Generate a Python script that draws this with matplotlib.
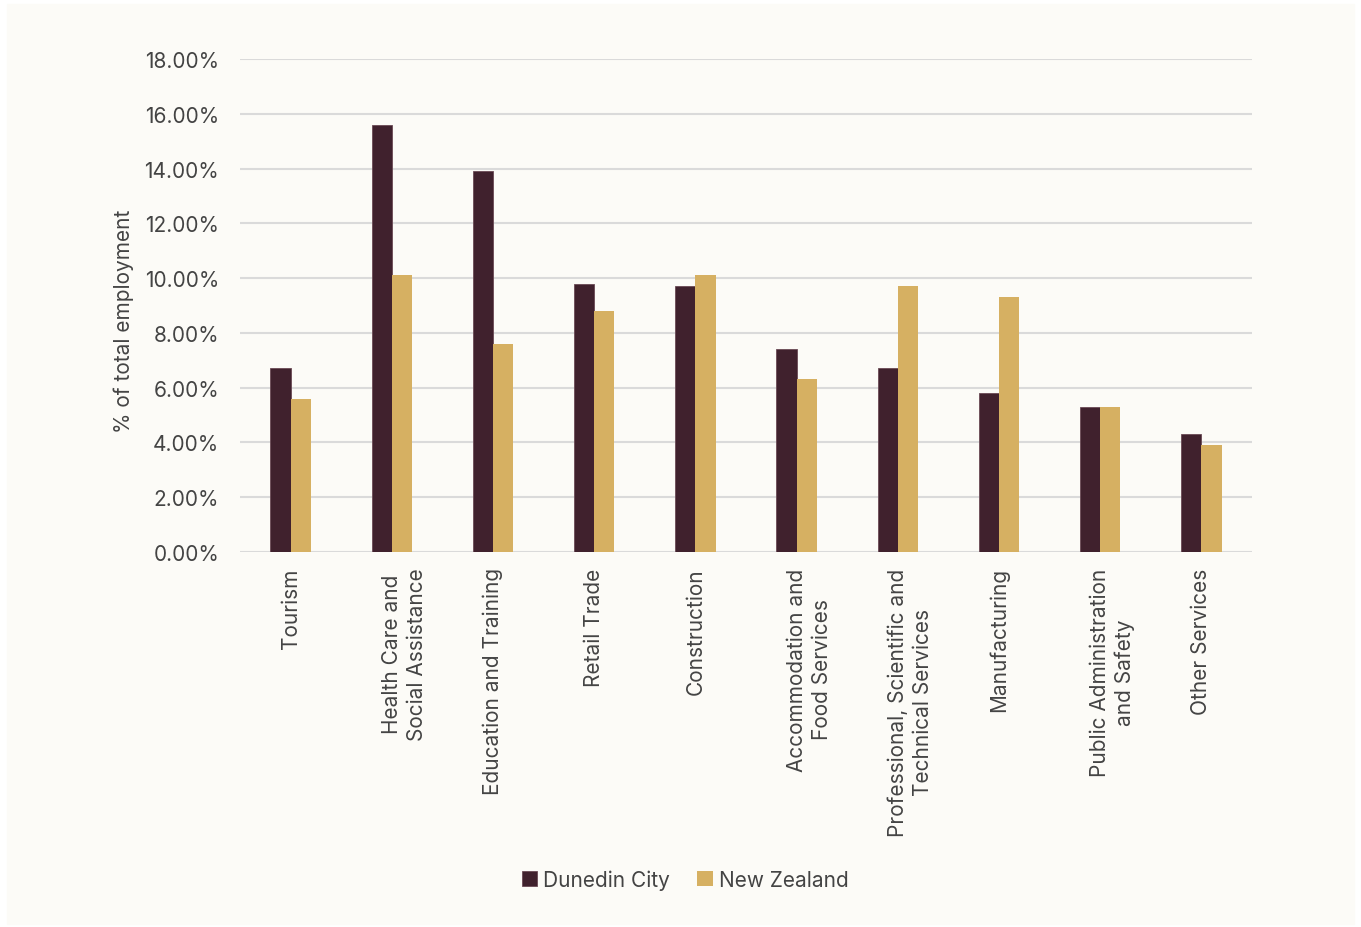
import matplotlib.pyplot as plt
import matplotlib.patches as mpatches
import matplotlib.transforms as mtransforms
import numpy as np

plt.rcParams['font.family'] = ['Inter', 'DejaVu Sans']

industries = ['Tourism', 'Health Care and\nSocial Assistance', 'Education and Training',
              'Retail Trade', 'Construction', 'Accommodation and\nFood Services',
              'Professional, Scientific and\nTechnical Services', 'Manufacturing',
              'Public Administration\nand Safety', 'Other Services']
dunedin = [6.7, 15.6, 13.9, 9.8, 9.7, 7.4, 6.7, 5.8, 5.3, 4.3]
nz = [5.6, 10.1, 7.6, 8.8, 10.1, 6.3, 9.7, 9.3, 5.3, 3.9]

c_dun = '#40212D'
c_nz = '#D6B062'
bg = '#FCFBF7'
txt = '#444444'

fig = plt.figure(figsize=(13.61, 9.28), dpi=100, facecolor='white')
# panel background inside thin white margin
fig.patches.append(mpatches.Rectangle((7/1361, 3/928), 1347/1361, 920/928,
                                      transform=fig.transFigure, color=bg, zorder=-10))
ax = fig.add_axes([240/1361, 1-553/928, 1012/1361, 493/928])
ax.set_facecolor(bg)

x = np.arange(len(industries))
w = 0.2
ax.bar(x - w/2, dunedin, width=w, color=c_dun, edgecolor='#6A4A55', linewidth=0.6,
       label='Dunedin City', zorder=3)
ax.bar(x + w/2, nz, width=w, color=c_nz, label='New Zealand', zorder=3)

ax.set_xlim(-0.5, len(industries) - 0.5)
ax.set_ylim(0, 18)
ax.set_yticks(np.arange(0, 18.1, 2))
ax.set_yticklabels(['%.2f%%' % v for v in np.arange(0, 18.1, 2)])
ax.grid(axis='y', color='#DADADA', linewidth=1.5, zorder=0)
for s in ax.spines.values():
    s.set_visible(False)
ax.tick_params(axis='both', length=0, labelsize=15, labelcolor=txt)
ax.tick_params(axis='y', pad=15)
ax.tick_params(axis='x', pad=11)
ax.set_xticks(x)
labels = ax.set_xticklabels(industries, rotation=90, ha='center', va='top',
                            multialignment='center', linespacing=1.3)
# two-line labels keep their first line on the tick
for lab in labels:
    if '\n' in lab.get_text():
        shift = mtransforms.ScaledTranslation(12.5/100, 0, fig.dpi_scale_trans)
        lab.set_transform(lab.get_transform() + shift)

ax.set_ylabel('% of total employment', fontsize=15, color=txt)
ax.yaxis.set_label_coords(-0.105, 0.47)

ax.legend(loc='center', bbox_to_anchor=(0.44, -0.665), ncol=2, frameon=False,
          fontsize=15, labelcolor=txt, handlelength=0.75, handleheight=0.75,
          handletextpad=0.3, columnspacing=1.3)

plt.savefig('out.png', dpi=100, facecolor='white')
